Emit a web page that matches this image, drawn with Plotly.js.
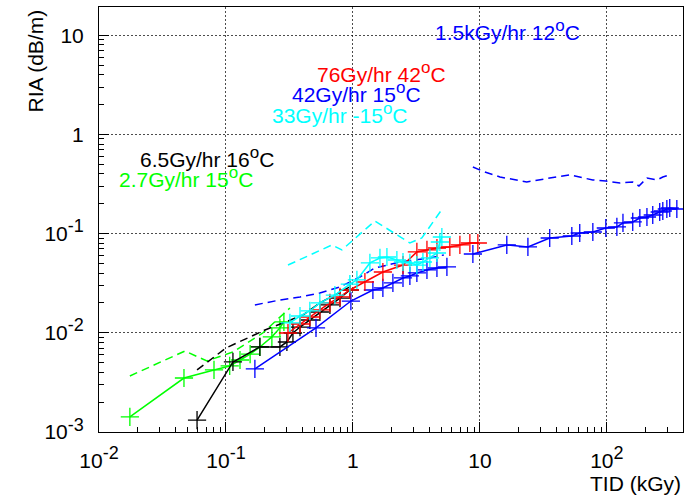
<!DOCTYPE html>
<html>
<head>
<meta charset="utf-8">
<script src="https://cdn.plot.ly/plotly-3.0.1.min.js"></script>
<style>
  html, body { margin: 0; padding: 0; background: #fff; }
  #chart { width: 689px; height: 495px; }
</style>
</head>
<body>
<div id="chart"></div>
<script>
// ---- data (TID in kGy, RIA in dB/m) ----
const green_solid_x = [0.0175, 0.0467, 0.0805, 0.107, 0.129, 0.155, 0.185, 0.230, 0.266, 0.286];
const green_solid_y = [0.00142, 0.0035, 0.00422, 0.00463, 0.00532, 0.0061, 0.0072, 0.0091, 0.0112, 0.0129];
const green_dash_x = [0.0175, 0.0475, 0.0708, 0.1135, 0.195, 0.319];
const green_dash_y = [0.00367, 0.00655, 0.0052, 0.0064, 0.00995, 0.0178];

const black_solid_x = [0.0592, 0.1135, 0.185, 0.266, 0.302, 0.337, 0.383, 0.458, 0.549, 0.659, 0.791, 0.946];
const black_solid_y = [0.00132, 0.00508, 0.0072, 0.0072, 0.00808, 0.00995, 0.01143, 0.01346, 0.0162, 0.0191, 0.0224, 0.0270];
const black_dash_x = [0.0592, 0.1, 0.203, 0.404, 0.549, 0.946];
const black_dash_y = [0.00422, 0.00703, 0.01067, 0.0151, 0.020, 0.0290];

const blue42_solid_x = [0.169, 0.512, 0.964, 1.437, 1.722, 2.065, 2.48, 2.81, 3.19, 3.83, 4.59, 5.50];
const blue42_solid_y = [0.00432, 0.0112, 0.0209, 0.0270, 0.0283, 0.0318, 0.0357, 0.0374, 0.0401, 0.0430, 0.0450, 0.0461];
const blue42_dash_x = [0.169, 0.266, 0.383, 0.549, 0.791, 1.135, 1.489, 2.35, 4.04, 5.2];
const blue42_dash_y = [0.0191, 0.0214, 0.0230, 0.0252, 0.0290, 0.0365, 0.0450, 0.0517, 0.0568, 0.0609];

const red_x = [0.308, 0.383, 0.458, 0.549, 0.659, 0.791, 0.946, 1.243, 1.722, 2.48, 3.19, 3.83, 4.59, 5.80, 6.96, 8.34, 9.64];
const red_y = [0.00995, 0.01227, 0.01443, 0.0170, 0.020, 0.0230, 0.0270, 0.0325, 0.0410, 0.0482, 0.0653, 0.0684, 0.0716, 0.0733, 0.0768, 0.0804, 0.0804];

const cyan_solid_x = [0.319, 0.383, 0.458, 0.549, 0.721, 0.946, 1.075, 1.361, 1.633, 1.853, 2.22, 2.48, 2.81, 3.19, 3.56, 4.04, 4.59, 4.84, 5.02];
const cyan_solid_y = [0.01256, 0.01476, 0.0166, 0.020, 0.0240, 0.0310, 0.0341, 0.0506, 0.0568, 0.0581, 0.0542, 0.0517, 0.0506, 0.0482, 0.0517, 0.0568, 0.0637, 0.0823, 0.0924];
const cyan_dash_x = [0.308, 0.684, 0.818, 1.489, 2.81, 3.49, 5.11];
const cyan_dash_y = [0.0482, 0.0768, 0.0684, 0.134, 0.0804, 0.0903, 0.181];

const blue15_solid_x = [8.81, 16.3, 23.9, 35.5, 53.0, 61.2, 77.6, 98.2, 120, 134, 160, 182, 207, 230, 261, 276, 297, 313, 356];
const blue15_solid_y = [0.0623, 0.0768, 0.0733, 0.0903, 0.0946, 0.1014, 0.1038, 0.1138, 0.1166, 0.128, 0.131, 0.1436, 0.147, 0.154, 0.165, 0.169, 0.177, 0.181, 0.177];
const blue15_dash_x = [8.81, 10.9, 14.4, 23.4, 35.5, 51.2, 77.6, 98.2, 127, 160, 179, 207, 248, 276, 313];
const blue15_dash_y = [0.469, 0.418, 0.372, 0.331, 0.363, 0.390, 0.347, 0.339, 0.324, 0.331, 0.302, 0.363, 0.347, 0.372, 0.390];

const DEG = "<sup><span style='font-size:17px'>o</span></sup>";
const labels = ["1.5kGy/hr 12" + DEG + "C", "76Gy/hr 42" + DEG + "C", "42Gy/hr 15" + DEG + "C",
                "33Gy/hr -15" + DEG + "C", "6.5Gy/hr 16" + DEG + "C", "2.7Gy/hr 15" + DEG + "C"];
const EXP = e => "10<sup><span style='font-size:18px'>" + e + "</span></sup>";
const xTickVals = [0.01, 0.1, 1, 10, 100];
const xTickText = [EXP("-2"), EXP("-1"), "1", "10", EXP("2")];
const yTickVals = [0.001, 0.01, 0.1, 1, 10];
const yTickText = [EXP("-3"), EXP("-2"), EXP("-1"), "1", "10"];

// ---- styling ----
const FONT = '"Liberation Sans", Arial, Helvetica, sans-serif';
const BLUE = 'rgb(0,0,255)', RED = 'rgb(255,0,0)', GREEN = 'rgb(0,255,0)', CYAN = 'rgb(0,255,255)', BLACK = 'rgb(0,0,0)';
const DASH = '8px,5px';

function solid(x, y, c) {
  return {x, y, type: 'scatter', mode: 'lines+markers',
    line: {color: c, width: 1.5},
    marker: {symbol: 'cross-thin-open', size: 13, color: c, line: {color: c, width: 1.3}},
    hoverinfo: 'skip', showlegend: false};
}
function dashed(x, y, c) {
  return {x, y, type: 'scatter', mode: 'lines',
    line: {color: c, width: 1.5, dash: DASH},
    hoverinfo: 'skip', showlegend: false};
}

const traces = [
  dashed(green_dash_x, green_dash_y, GREEN),
  solid(green_solid_x, green_solid_y, GREEN),
  dashed(black_dash_x, black_dash_y, BLACK),
  solid(black_solid_x, black_solid_y, BLACK),
  dashed(blue42_dash_x, blue42_dash_y, BLUE),
  solid(blue42_solid_x, blue42_solid_y, BLUE),
  solid(red_x, red_y, RED),
  dashed(cyan_dash_x, cyan_dash_y, CYAN),
  solid(cyan_solid_x, cyan_solid_y, CYAN),
  dashed(blue15_dash_x, blue15_dash_y, BLUE),
  solid(blue15_solid_x, blue15_solid_y, BLUE)
];

function minorVals(lo, hi) {
  const v = [];
  for (let e = lo; e <= hi; e++) for (let m = 2; m <= 9; m++) v.push(m * Math.pow(10, e));
  return v;
}

const axisCommon = {
  type: 'log', tickmode: 'array',
  ticks: 'inside', ticklen: 10, tickwidth: 1, tickcolor: '#000',
  showline: true, linecolor: '#000', linewidth: 1, mirror: true,
  showgrid: true, gridcolor: 'rgba(0,0,0,0.7)', gridwidth: 1, griddash: '2px,2px',
  zeroline: false,
  tickfont: {family: FONT, size: 21, color: '#000'},
};

const annColors = [BLUE, RED, BLUE, CYAN, BLACK, GREEN];
const annPos = [[433, 30], [315, 72], [290, 92], [270, 113], [138, 157], [117, 177]];
const L = 99, T = 7, W = 584, H = 425;
const annotations = labels.map((t, i) => ({
  text: t, xref: 'paper', yref: 'paper',
  x: (annPos[i][0] - L) / W, y: (T + H - annPos[i][1]) / H,
  xanchor: 'left', yanchor: 'middle', showarrow: false,
  font: {family: FONT, size: 21, color: annColors[i]}
}));
annotations.push({
  text: 'RIA (dB/m)', xref: 'paper', yref: 'paper',
  x: (35 - L) / W, y: (T + H - 8) / H, xanchor: 'center', yanchor: 'top',
  textangle: -90, showarrow: false, font: {family: FONT, size: 21, color: '#000'}
});
annotations.push({
  text: 'TID (kGy)', xref: 'paper', yref: 'paper',
  x: 1, y: (T + H - 483) / H, xanchor: 'right', yanchor: 'middle',
  showarrow: false, font: {family: FONT, size: 21, color: '#000'}
});

const layout = {
  width: 689, height: 495,
  margin: {l: L, r: 689 - L - W, t: T, b: 495 - T - H, pad: 0},
  paper_bgcolor: '#fff', plot_bgcolor: '#fff',
  showlegend: false,
  xaxis: Object.assign({}, axisCommon, {
    range: [-2, 2.6], tickvals: xTickVals, ticktext: xTickText, ticklabelstandoff: 10,
    minor: {tickmode: 'array', tickvals: minorVals(-2, 2), ticks: 'inside', ticklen: 5, tickcolor: '#000', showgrid: false}
  }),
  yaxis: Object.assign({}, axisCommon, {
    range: [-3, 1.284], tickvals: yTickVals, ticktext: yTickText, ticklabelstandoff: 10,
    minor: {tickmode: 'array', tickvals: minorVals(-3, 1), ticks: 'inside', ticklen: 5, tickcolor: '#000', showgrid: false}
  }),
  annotations: annotations
};

Plotly.newPlot('chart', traces, layout, {staticPlot: true, displayModeBar: false});
</script>
</body>
</html>
